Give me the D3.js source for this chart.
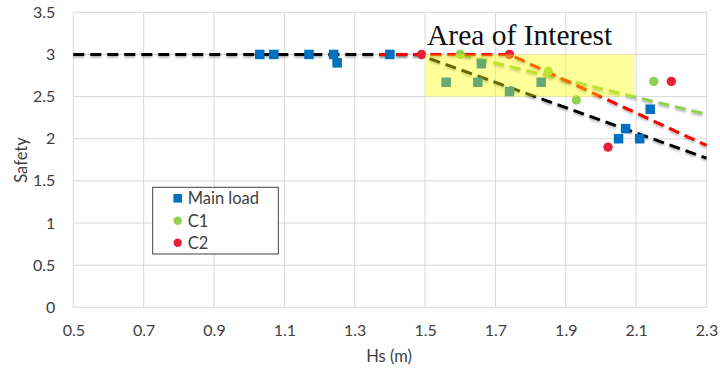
<!DOCTYPE html>
<html><head><meta charset="utf-8">
<script src="https://cdn.jsdelivr.net/npm/d3@7"></script>
<style>
html,body{margin:0;padding:0;background:#fff;}
svg{display:block;font-family:Lato,"Open Sans",sans-serif;}
</style></head>
<body><svg id="c" width="720" height="369"></svg>
<script>
// ---- data ----
const mainX = [1.03,1.07,1.17,1.24,1.25,1.40,1.56,1.65,1.66,1.74,1.83,2.05,2.07,2.11,2.14];
const mainY = [3,3,3,3,2.9,3,2.67,2.67,2.89,2.56,2.67,2.0,2.12,2.0,2.35];
const c1X = [1.60,1.85,1.93,2.15];
const c1Y = [3,2.8,2.46,2.68];
const c2X = [1.49,1.74,2.02,2.20];
const c2Y = [3,3,1.9,2.68];
const trendMainX = [0.5,1.48,2.3];
const trendMainY = [3,3,1.77];
const trendC1X = [1.6,2.3];
const trendC1Y = [3,2.29];
const trendC2X = [1.37,1.74,2.3];
const trendC2Y = [3,3,1.92];
const areaX = [1.5,2.095];
const areaY = [2.5,3.0];
const xTicks = [0.5,0.7,0.9,1.1,1.3,1.5,1.7,1.9,2.1,2.3];
const yTicks = [0,0.5,1,1.5,2,2.5,3,3.5];
const seriesNames = ["Main load","C1","C2"];
const annotation = "Area of Interest";

// ---- layout ----
const svg = d3.select("#c");
const L=73.3, R=706.5, T=12.3, B=307.3;
const x = d3.scaleLinear().domain([0.5,2.3]).range([L,R]);
const y = d3.scaleLinear().domain([0,3.5]).range([B,T]);
const blue="#0070c0", green="#92d050", red="#e8203a";
const txt="#404040";

const defs = svg.append("defs");
const f = defs.append("filter").attr("id","sh").attr("x","-5%").attr("y","-50%").attr("width","110%").attr("height","200%");
f.append("feDropShadow").attr("dx",0).attr("dy",1.5).attr("stdDeviation",1.3).attr("flood-color","#000").attr("flood-opacity",0.35);

// gridlines
svg.append("g").selectAll("line").data(xTicks).join("line")
  .attr("x1",d=>x(d)).attr("x2",d=>x(d)).attr("y1",T).attr("y2",B)
  .attr("stroke","#d9d9d9").attr("stroke-width",1);
svg.append("g").selectAll("line").data(yTicks).join("line")
  .attr("x1",L).attr("x2",R).attr("y1",d=>y(d)).attr("y2",d=>y(d))
  .attr("stroke","#d9d9d9").attr("stroke-width",1);

// axes (labels only)
const xa = svg.append("g").attr("transform",`translate(0,${B})`)
  .call(d3.axisBottom(x).tickValues(xTicks).tickFormat(d3.format(".1f")).tickSize(0).tickPadding(17));
const ya = svg.append("g").attr("transform",`translate(${L},0)`)
  .call(d3.axisLeft(y).tickValues(yTicks).tickFormat(d=>String(d)).tickSize(0).tickPadding(18));
[xa,ya].forEach(a=>{
  a.select(".domain").remove();
  a.selectAll("text").attr("fill",txt).style("font-size","16px").style("font-family","Lato,'Open Sans',sans-serif");
});

// axis titles
svg.append("text").attr("x",389).attr("y",362).attr("text-anchor","middle")
  .attr("fill",txt).style("font-size","16.5px").text("Hs (m)");
svg.append("text").attr("transform","translate(26.5,160) rotate(-90)").attr("text-anchor","middle")
  .attr("fill",txt).style("font-size","16.5px").text("Safety");

// trend lines
const line = d3.line().x(d=>x(d[0])).y(d=>y(d[1]));
function trend(xs,ys,color){
  svg.append("path").datum(d3.zip(xs,ys)).attr("d",line)
    .attr("fill","none").attr("stroke",color).attr("stroke-width",3)
    .attr("stroke-dasharray","11,6").attr("filter","url(#sh)");
}
trend(trendMainX,trendMainY,"#000");
trend(trendC1X,trendC1Y,green);
trend(trendC2X,trendC2Y,"#ff0000");

// markers
const s=9.5;
svg.append("g").selectAll("rect").data(d3.zip(mainX,mainY)).join("rect")
  .attr("x",d=>x(d[0])-s/2).attr("y",d=>y(d[1])-s/2).attr("width",s).attr("height",s).attr("fill",blue);
svg.append("g").selectAll("circle").data(d3.zip(c1X,c1Y)).join("circle")
  .attr("cx",d=>x(d[0])).attr("cy",d=>y(d[1])).attr("r",4.7).attr("fill",green);
svg.append("g").selectAll("circle").data(d3.zip(c2X,c2Y)).join("circle")
  .attr("cx",d=>x(d[0])).attr("cy",d=>y(d[1])).attr("r",4.7).attr("fill",red);

// area of interest overlay
svg.append("rect").attr("x",x(areaX[0])).attr("y",y(areaY[1]))
  .attr("width",x(areaX[1])-x(areaX[0])).attr("height",y(areaY[0])-y(areaY[1]))
  .attr("fill","#ffff00").attr("opacity",0.4);
svg.append("text").attr("x",x(areaX[0])+2).attr("y",45)
  .style("font-family","'Liberation Serif','Times New Roman',serif").style("font-size","29.5px")
  .attr("fill","#111").text(annotation);

// legend
const lg = svg.append("g");
lg.append("rect").attr("x",152.7).attr("y",187.3).attr("width",125.6).attr("height",66.7)
  .attr("fill","#fff").attr("stroke","#404040").attr("stroke-width",1);
const ly = [198.3,220.7,242.7];
const lc = [blue,green,red];
seriesNames.forEach((n,i)=>{
  if(i===0) lg.append("rect").attr("x",177.7-4.3).attr("y",ly[i]-4.3).attr("width",8.6).attr("height",8.6).attr("fill",lc[i]);
  else lg.append("circle").attr("cx",177.7).attr("cy",ly[i]).attr("r",4.2).attr("fill",lc[i]);
  lg.append("text").attr("x",187.7).attr("y",ly[i]).attr("dy","0.36em")
    .attr("fill",txt).style("font-size","16.5px").text(n);
});
</script></body></html>
